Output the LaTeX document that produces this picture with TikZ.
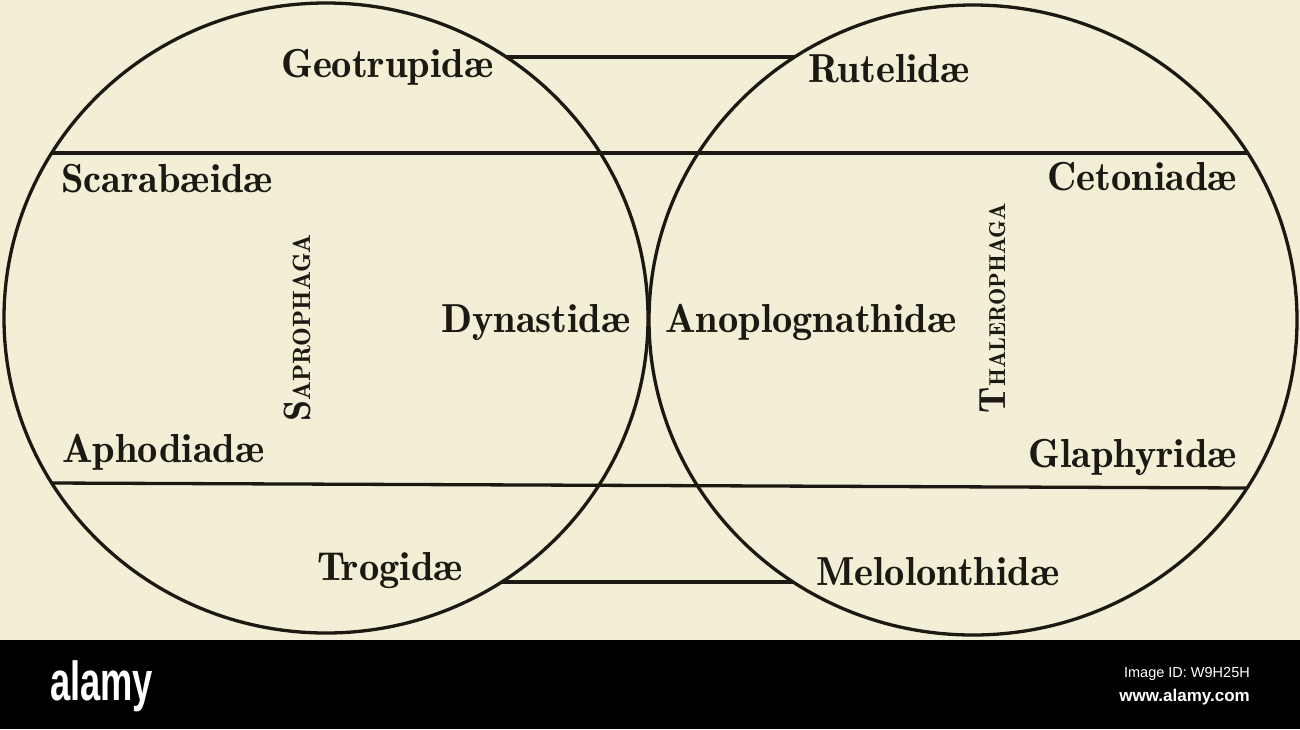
\documentclass[tikz,border=0pt]{standalone}
\usepackage{fontspec}
\newfontfamily\demifont{lmromandemi10-regular.otf}
\newfontfamily\logofont{Liberation Sans}[FakeStretch=0.66]
\newfontfamily\idfont{Liberation Sans}
\definecolor{paper}{RGB}{242,239,214}
\definecolor{ink}{RGB}{28,24,18}
\tikzset{
  rule/.style={draw=ink, line width=3.3pt},
  lbl/.style={text=ink, font=\demifont\fontsize{40.5}{44}\selectfont, inner sep=0pt},
  grp/.style={text=ink, inner sep=0pt, rotate=90, anchor=base}
}
\newcommand{\grpinitial}[1]{{\demifont\fontsize{38}{40}\selectfont #1}}
\newcommand{\grprest}[2]{{\demifont\fontsize{#1}{26}\selectfont #2}}
\begin{document}
\begin{tikzpicture}[x=1pt,y=-1pt]
\useasboundingbox (0,0) rectangle (1300,729);
\fill[paper] (0,0) rectangle (1300,640);
\fill[black] (0,640) rectangle (1300,729);
% circles
\draw[rule] (326,318) ellipse [x radius=322pt, y radius=315pt];
\draw[rule] (973,320) ellipse [x radius=324pt, y radius=315pt];
% lines
\coordinate (tc1) at (506.3,57);  \coordinate (tc2) at (794.7,57);
\coordinate (ul1) at (51.7,153);  \coordinate (ul2) at (1247.7,153);
\coordinate (ll1) at (51.7,483);  \coordinate (ll2) at (1247.1,488);
\coordinate (bc1) at (501.7,582); \coordinate (bc2) at (793.1,582);
\draw[rule] (tc1) -- (tc2);
\draw[rule] (ul1) -- (ul2);
\draw[rule] (ll1) -- (ll2);
\draw[rule] (bc1) -- (bc2);
% family labels
\node[lbl, anchor=base west] (geo) at (281,77) {Geotrupidæ};
\node[lbl, anchor=base west] (sca) at (61,192) {Scarabæidæ};
\node[lbl, anchor=base west] (dyn) at (441,332) {Dynastidæ};
\node[lbl, anchor=base west] (aph) at (62,462) {Aphodiadæ};
\node[lbl, anchor=base west] (tro) at (317,580) {Trogidæ};
\node[lbl, anchor=base west] (rut) at (808,82) {Rutelidæ};
\node[lbl, anchor=base east] (cet) at (1237,190) {Cetoniadæ};
\node[lbl, anchor=base west] (ano) at (665,332) {Anoplognathidæ};
\node[lbl, anchor=base east] (gla) at (1237,467) {Glaphyridæ};
\node[lbl, anchor=base west] (mel) at (816,585) {Melolonthidæ};
% group labels
\node[grp] (sap) at (310,328) {\grpinitial{S}\grprest{25}{APROPHAGA}};
\node[grp] (tha) at (1005,308) {\grpinitial{T}\grprest{23}{HALEROPHAGA}};
% banner
\node[text=white, inner sep=0pt, anchor=base west, font=\logofont\bfseries\fontsize{55}{60}\selectfont] (logo) at (50,700) {alamy};
\node[text=white, inner sep=0pt, anchor=base east, font=\idfont\fontsize{14.5}{16}\selectfont] (imgid) at (1250,677) {Image ID: W9H25H};
\node[text=white, inner sep=0pt, anchor=base east, font=\idfont\bfseries\fontsize{17}{19}\selectfont] (www) at (1250,701) {www.alamy.com};
\end{tikzpicture}
\end{document}
